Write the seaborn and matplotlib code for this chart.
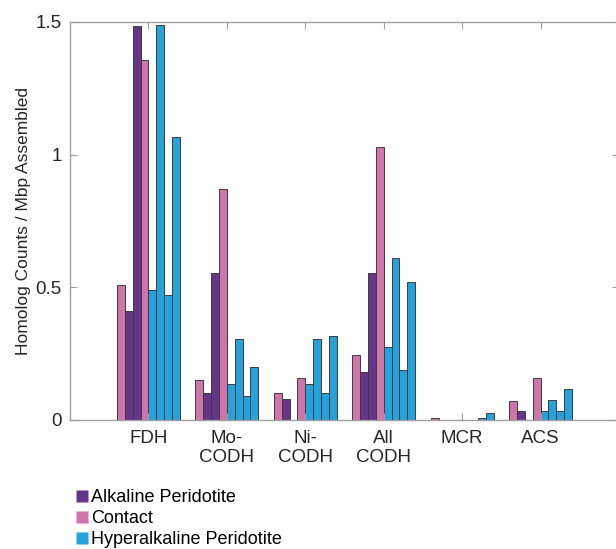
import seaborn as sns
import pandas as pd
import numpy as np
from matplotlib import pyplot as plt
from matplotlib.lines import Line2D

# gene categories along the x axis
genes = ['FDH', 'Mo-\nCODH', 'Ni-\nCODH', 'All\nCODH', 'MCR', 'ACS']

# 8 metagenomes, in plotting order, and their rock type
samples = ['C1', 'A1', 'A2', 'C2', 'H1', 'H2', 'H3', 'H4']
sample_type = ['Contact', 'Alkaline Peridotite', 'Alkaline Peridotite', 'Contact',
               'Hyperalkaline Peridotite', 'Hyperalkaline Peridotite',
               'Hyperalkaline Peridotite', 'Hyperalkaline Peridotite']

# homolog counts / Mbp assembled, one list per gene (sample order as above)
fdh = [0.51, 0.41, 1.485, 1.355, 0.49, 1.49, 0.47, 1.065]
mo_codh = [0.15, 0.10, 0.555, 0.87, 0.135, 0.305, 0.09, 0.20]
ni_codh = [0.10, 0.08, 0.0, 0.16, 0.135, 0.305, 0.10, 0.315]
all_codh = [0.245, 0.18, 0.555, 1.03, 0.275, 0.61, 0.19, 0.52]
mcr = [0.008, 0.0, 0.0, 0.0, 0.0, 0.0, 0.008, 0.028]
acs = [0.072, 0.033, 0.0, 0.16, 0.035, 0.075, 0.035, 0.115]

type_colors = {'Alkaline Peridotite': '#66358a',
               'Contact': '#d074ac',
               'Hyperalkaline Peridotite': '#24a2d9'}

values = [fdh, mo_codh, ni_codh, all_codh, mcr, acs]
rows = []
for g, vals in zip(genes, values):
    for s, v in zip(samples, vals):
        rows.append({'gene': g, 'sample': s, 'value': v})
df = pd.DataFrame(rows)

palette = {s: type_colors[t] for s, t in zip(samples, sample_type)}

plt.rcParams['font.family'] = ['Liberation Sans', 'DejaVu Sans']
fig = plt.figure(figsize=(6.16, 5.49), dpi=100)
ax = fig.add_axes([70 / 616, 1 - 420 / 549, 549 / 616, 398 / 549])

sns.barplot(data=df, x='gene', y='value', hue='sample', hue_order=samples,
            palette=palette, width=0.8, gap=0, saturation=1, errorbar=None,
            edgecolor='#3c3c3c', linewidth=0.7, legend=False, ax=ax)

ax.set_xlim(-1, 6)
ax.set_ylim(0, 1.5)
ax.set_yticks([0, 0.5, 1, 1.5])
ax.set_yticklabels(['0', '0.5', '1', '1.5'])
ax.set_xlabel('')
ax.set_ylabel('Homolog Counts / Mbp Assembled', fontsize=12.5, color='#262626', labelpad=3)

for sp in ax.spines.values():
    sp.set_color('#a0a0a0')
    sp.set_linewidth(1.0)
ax.tick_params(direction='in', top=True, right=True, length=5, width=0.8,
               color='#a0a0a0', labelsize=13.5, labelcolor='#262626', pad=6)
ax.tick_params(axis='x', pad=7)

handles = [Line2D([], [], marker='s', linestyle='none', markersize=8,
                  markerfacecolor=type_colors[t], markeredgecolor='none', label=t)
           for t in ['Alkaline Peridotite', 'Contact', 'Hyperalkaline Peridotite']]
fig.legend(handles=handles, loc='upper left', bbox_to_anchor=(67 / 616, 1 - 482 / 549),
           frameon=False, fontsize=13, handletextpad=0.05, labelspacing=0.22,
           handlelength=0.9, borderaxespad=0)

plt.savefig('out.png', dpi=100)
